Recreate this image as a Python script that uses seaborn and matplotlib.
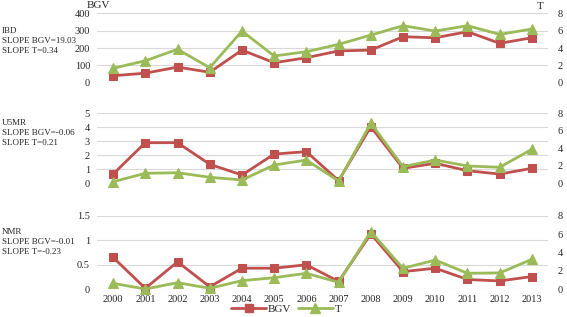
import matplotlib
matplotlib.use("Agg")
import matplotlib.pyplot as plt
import seaborn as sns
from matplotlib.lines import Line2D

# chart data
years = [2000, 2001, 2002, 2003, 2004, 2005, 2006, 2007, 2008, 2009, 2010, 2011, 2012, 2013]
ibd_bgv = [40, 55, 90, 60, 188, 115, 144, 183, 188, 265, 259, 294, 227, 259]
ibd_t = [1.66, 2.53, 3.85, 1.73, 5.95, 3.08, 3.57, 4.42, 5.49, 6.57, 5.95, 6.57, 5.57, 6.19]
u5mr_bgv = [0.66, 2.9, 2.9, 1.36, 0.59, 2.09, 2.26, 0.19, 4.04, 1.07, 1.43, 0.9, 0.66, 1.07]
u5mr_t = [0.18, 1.14, 1.21, 0.69, 0.38, 2.09, 2.66, 0.26, 6.86, 1.9, 2.66, 1.98, 1.83, 3.89]
nmr_bgv = [0.65, 0.02, 0.56, 0.05, 0.43, 0.43, 0.50, 0.16, 1.13, 0.36, 0.43, 0.20, 0.17, 0.26]
nmr_t = [0.65, 0.03, 0.72, 0.11, 0.94, 1.26, 1.74, 0.76, 6.26, 2.28, 3.18, 1.74, 1.78, 3.26]

panel_labels = ["IBD\nSLOPE BGV=19.03\nSLOPE T=0.34",
                "U5MR\nSLOPE BGV=-0.06\nSLOPE T=0.21",
                "NMR\nSLOPE BGV=-0.01\nSLOPE T=-0.23"]
left_ticks = [[0, 100, 200, 300, 400], [0, 1, 2, 3, 4, 5], [0, 0.5, 1, 1.5]]
left_ticklabels = [["0", "100", "200", "300", "400"], ["0", "1", "2", "3", "4", "5"], ["0", "0.5", "1", "1.5"]]
right_ticks = [0, 2, 4, 6, 8]

RED = "#C0504D"
GREEN = "#9BBB59"
FS = 7.5

sns.set_style("white")
plt.rcParams['font.family'] = ['Liberation Serif', 'DejaVu Serif']

W, H = 567, 317
fig = plt.figure(figsize=(W / 100, H / 100), dpi=100)

# axes boxes in pixels: (top, bottom)
boxes = [(13.3, 82.7), (113.3, 183.3), (215.7, 289.3)]
label_tops = [27, 119, 228]
series = [(ibd_bgv, ibd_t), (u5mr_bgv, u5mr_t), (nmr_bgv, nmr_t)]
x_left, x_right = 97, 548

for i, ((top, bot), (bgv, t)) in enumerate(zip(boxes, series)):
    ax = fig.add_axes([x_left / W, 1 - bot / H, (x_right - x_left) / W, (bot - top) / H])
    sns.lineplot(x=years, y=bgv, ax=ax, color=RED, marker="s", markersize=6,
                 markeredgecolor=RED, linewidth=2, clip_on=False)
    ax.set_ylim(left_ticks[i][0], left_ticks[i][-1])
    ax.set_yticks(left_ticks[i])
    ax.set_yticklabels(left_ticklabels[i], fontsize=FS)
    ax.set_xlim(1999.5, 2013.5)
    ax.yaxis.grid(True, color="#D9D9D9", linewidth=0.8)
    ax.tick_params(axis="y", length=0, pad=5)
    ax.set_xticks(years)
    if i == 2:
        ax.set_xticklabels([str(y) for y in years], fontsize=FS)
        ax.tick_params(axis="x", length=0, pad=4)
    else:
        ax.set_xticklabels([])
        ax.tick_params(axis="x", length=0)
    for s in ax.spines.values():
        s.set_visible(False)

    ax2 = ax.twinx()
    sns.lineplot(x=years, y=t, ax=ax2, color=GREEN, marker="^", markersize=6.5,
                 markeredgecolor=GREEN, linewidth=2, clip_on=False)
    ax2.set_ylim(0, 8)
    ax2.set_yticks(right_ticks)
    ax2.set_yticklabels([str(v) for v in right_ticks], fontsize=FS)
    ax2.tick_params(axis="y", length=0, pad=7)
    ax2.grid(False)
    for s in ax2.spines.values():
        s.set_visible(False)

    fig.text(2 / W, 1 - label_tops[i] / H, panel_labels[i], fontsize=6.5,
             va="top", ha="left", linespacing=1.35)

fig.text(87 / W, 1 - 1 / H, "BGV", fontsize=FS + 0.5, va="top", ha="left")
fig.text(537 / W, 1 - 2 / H, "T", fontsize=FS + 0.5, va="top", ha="left")

handles = [Line2D([], [], color=RED, marker="s", markersize=6, linewidth=2),
           Line2D([], [], color=GREEN, marker="^", markersize=6.5, linewidth=2)]
fig.legend(handles, ["BGV", "T"], loc="center", bbox_to_anchor=(286 / W, 1 - 309 / H),
           ncol=2, frameon=False, fontsize=FS + 0.5, handlelength=3.2,
           handletextpad=0.1, columnspacing=0.6, borderpad=0)

fig.savefig("out.png", dpi=100)
